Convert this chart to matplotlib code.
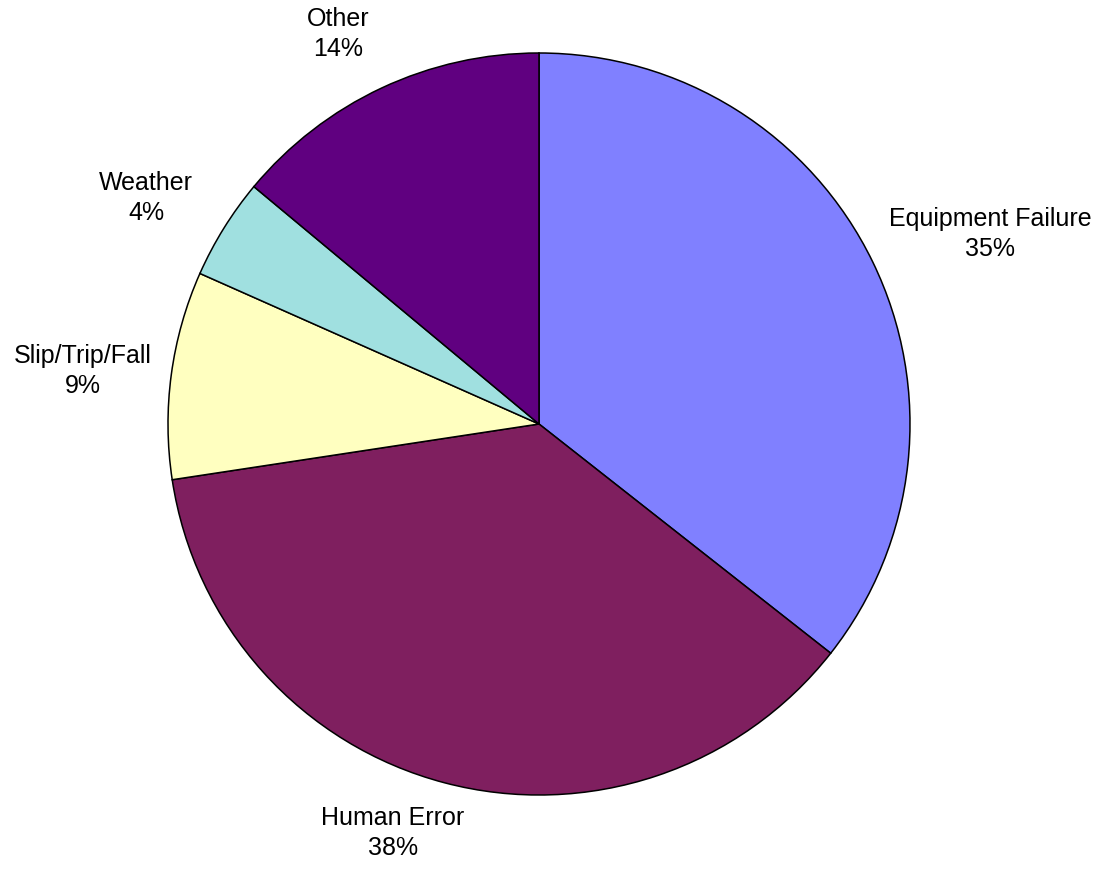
import matplotlib
matplotlib.use("Agg")
import matplotlib.pyplot as plt

# Causes of incidents (share of total)
categories = ["Equipment Failure", "Human Error", "Slip/Trip/Fall", "Weather", "Other"]
values = [35.6, 37.0, 9.05, 4.4, 13.95]
pct_labels = ["35%", "38%", "9%", "4%", "14%"]
colors = ["#8080FF", "#7F1F5F", "#FFFFC0", "#A0E0E0", "#600080"]

# label anchor positions (pixels, y measured from the top)
label_pos = [(990, 234), (393, 833), (83, 371), (146, 198), (338, 34)]

plt.rcParams["font.family"] = ["Liberation Sans", "DejaVu Sans"]

fig = plt.figure(figsize=(11.04, 8.69), dpi=100)
ax = fig.add_axes([0, 0, 1, 1])

ax.pie(values, colors=colors, startangle=90, counterclock=False,
       center=(539, 869 - 424), radius=371, frame=True,
       wedgeprops=dict(edgecolor="black", linewidth=1.1))
ax.set_xlim(0, 1104)
ax.set_ylim(0, 869)
ax.axis("off")

for name, pct, (x, y) in zip(categories, pct_labels, label_pos):
    ax.text(x, 869 - y, name + "\n" + pct, ha="center", va="center",
            fontsize=18, linespacing=1.3, color="black")

fig.savefig("out.png", dpi=100)
